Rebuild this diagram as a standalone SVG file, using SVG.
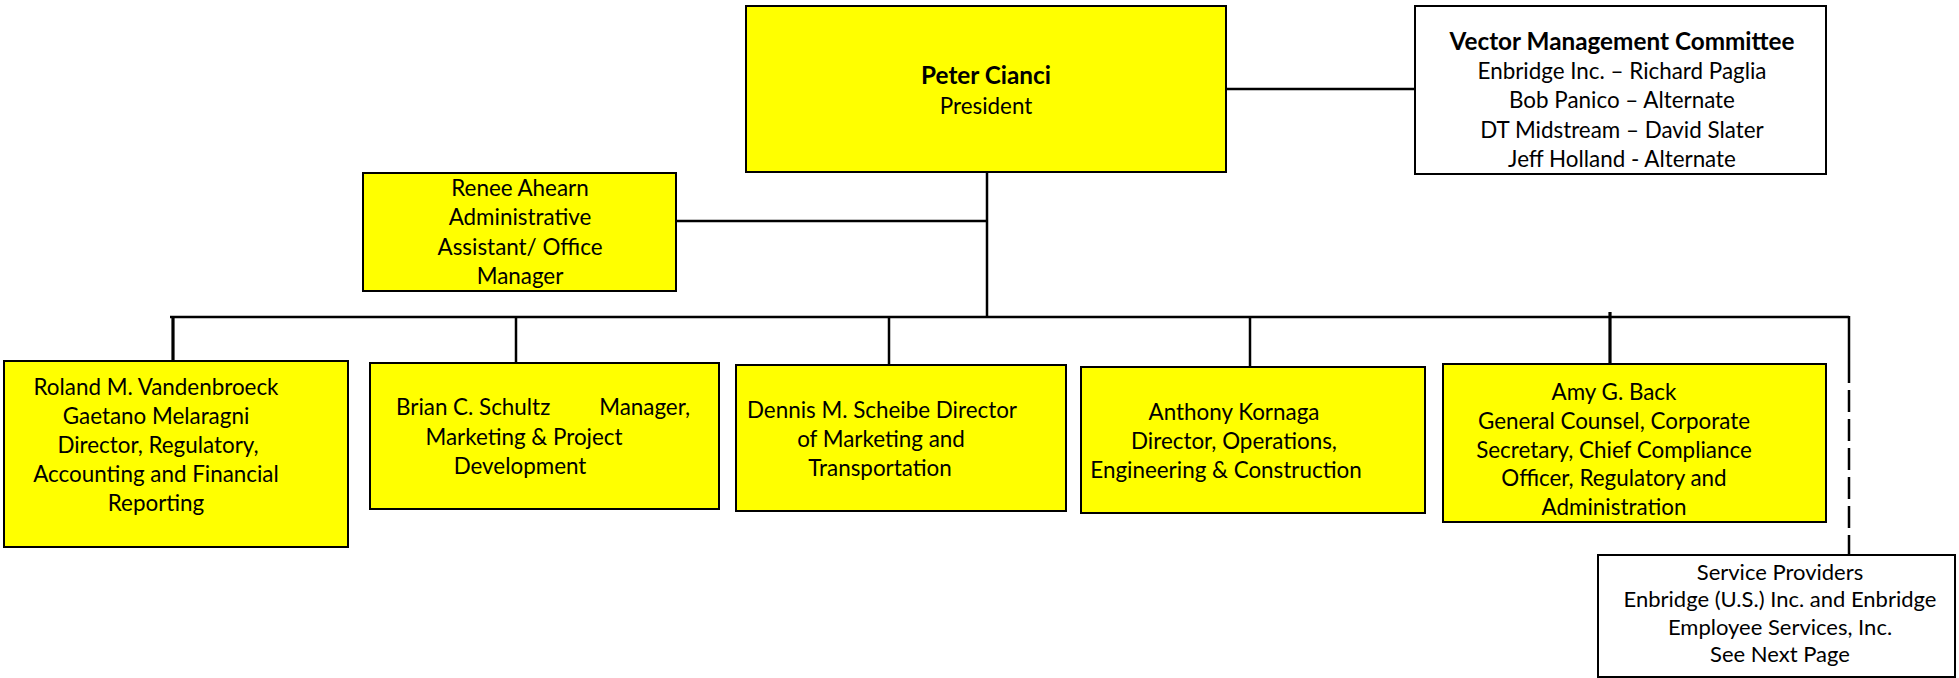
<svg xmlns="http://www.w3.org/2000/svg" width="1959" height="678" viewBox="0 0 1959 678">
<style>
.box{fill:#FFFF00;stroke:#000;stroke-width:2}
.wbox{fill:#FFFFFF;stroke:#000;stroke-width:2}
.t{font-family:Lato,"Liberation Sans",sans-serif;font-size:22.4px;fill:#000;text-anchor:middle}
.b{font-weight:bold;font-size:24.3px}
.s{font-size:22px}
.st{text-anchor:start}
.en{text-anchor:end}
.ln{stroke:#000;stroke-width:2.5;fill:none}
.thick{stroke-width:3.2}
.dash{stroke-dasharray:22 7}
</style>
<rect width="1959" height="678" fill="#FFFFFF"/>
<g id="connectors">
<path class="ln" d="M1226 89 H1417"/>
<path class="ln" d="M676 221 H987"/>
<path class="ln" d="M987 172 V317"/>
<path class="ln" d="M170 317 H1849"/>
<path class="ln thick" d="M173 317 V361"/>
<path class="ln" d="M516 317 V363"/>
<path class="ln" d="M889 317 V365"/>
<path class="ln" d="M1250 317 V367"/>
<path class="ln thick" d="M1610 312 V364"/>
<path class="ln" d="M1849 316 V361"/>
<path class="ln dash" d="M1849 361 V555"/>
</g>
<g id="president">
<rect class="box" x="746" y="6" width="480" height="166"/>
<text class="t b" x="986" y="84">Peter Cianci</text>
<text class="t" x="986" y="114">President</text>
</g>
<g id="vector-committee">
<rect class="wbox" x="1415" y="6" width="411" height="168"/>
<text class="t b" x="1622" y="50">Vector Management Committee</text>
<text class="t" x="1622" y="79">Enbridge Inc. – Richard Paglia</text>
<text class="t" x="1622" y="108">Bob Panico – Alternate</text>
<text class="t" x="1622" y="138">DT Midstream – David Slater</text>
<text class="t" x="1622" y="167">Jeff Holland - Alternate</text>
</g>
<g id="renee">
<rect class="box" x="363" y="173" width="313" height="118"/>
<text class="t" x="520" y="196">Renee Ahearn</text>
<text class="t" x="520" y="225">Administrative</text>
<text class="t" x="520" y="255">Assistant/ Office</text>
<text class="t" x="520" y="284">Manager</text>
</g>
<g id="roland">
<rect class="box" x="4" y="361" width="344" height="186"/>
<text class="t" x="156" y="395">Roland M. Vandenbroeck</text>
<text class="t" x="156" y="424">Gaetano Melaragni</text>
<text class="t" x="158" y="453">Director, Regulatory,</text>
<text class="t" x="156" y="482">Accounting and Financial</text>
<text class="t" x="156" y="511">Reporting</text>
</g>
<g id="brian">
<rect class="box" x="370" y="363" width="349" height="146"/>
<text class="t st" x="396" y="415">Brian C. Schultz</text>
<text class="t en" x="690" y="415">Manager,</text>
<text class="t" x="524" y="445">Marketing &amp; Project</text>
<text class="t" x="520" y="474">Development</text>
</g>
<g id="dennis">
<rect class="box" x="736" y="365" width="330" height="146"/>
<text class="t" x="882" y="418">Dennis M. Scheibe Director</text>
<text class="t" x="881" y="447">of Marketing and</text>
<text class="t" x="880" y="476">Transportation</text>
</g>
<g id="anthony">
<rect class="box" x="1081" y="367" width="344" height="146"/>
<text class="t" x="1234" y="420">Anthony Kornaga</text>
<text class="t" x="1234" y="449">Director, Operations,</text>
<text class="t" x="1226" y="478">Engineering &amp; Construction</text>
</g>
<g id="amy">
<rect class="box" x="1443" y="364" width="383" height="158"/>
<text class="t" x="1614" y="400">Amy G. Back</text>
<text class="t" x="1614" y="429">General Counsel, Corporate</text>
<text class="t" x="1614" y="458">Secretary, Chief Compliance</text>
<text class="t" x="1614" y="486">Officer, Regulatory and</text>
<text class="t" x="1614" y="515">Administration</text>
</g>
<g id="service-providers">
<rect class="wbox" x="1598" y="555" width="357" height="122"/>
<text class="t s" x="1780" y="580">Service Providers</text>
<text class="t s" x="1780" y="607">Enbridge (U.S.) Inc. and Enbridge</text>
<text class="t s" x="1780" y="635">Employee Services, Inc.</text>
<text class="t s" x="1780" y="662">See Next Page</text>
</g>
</svg>
